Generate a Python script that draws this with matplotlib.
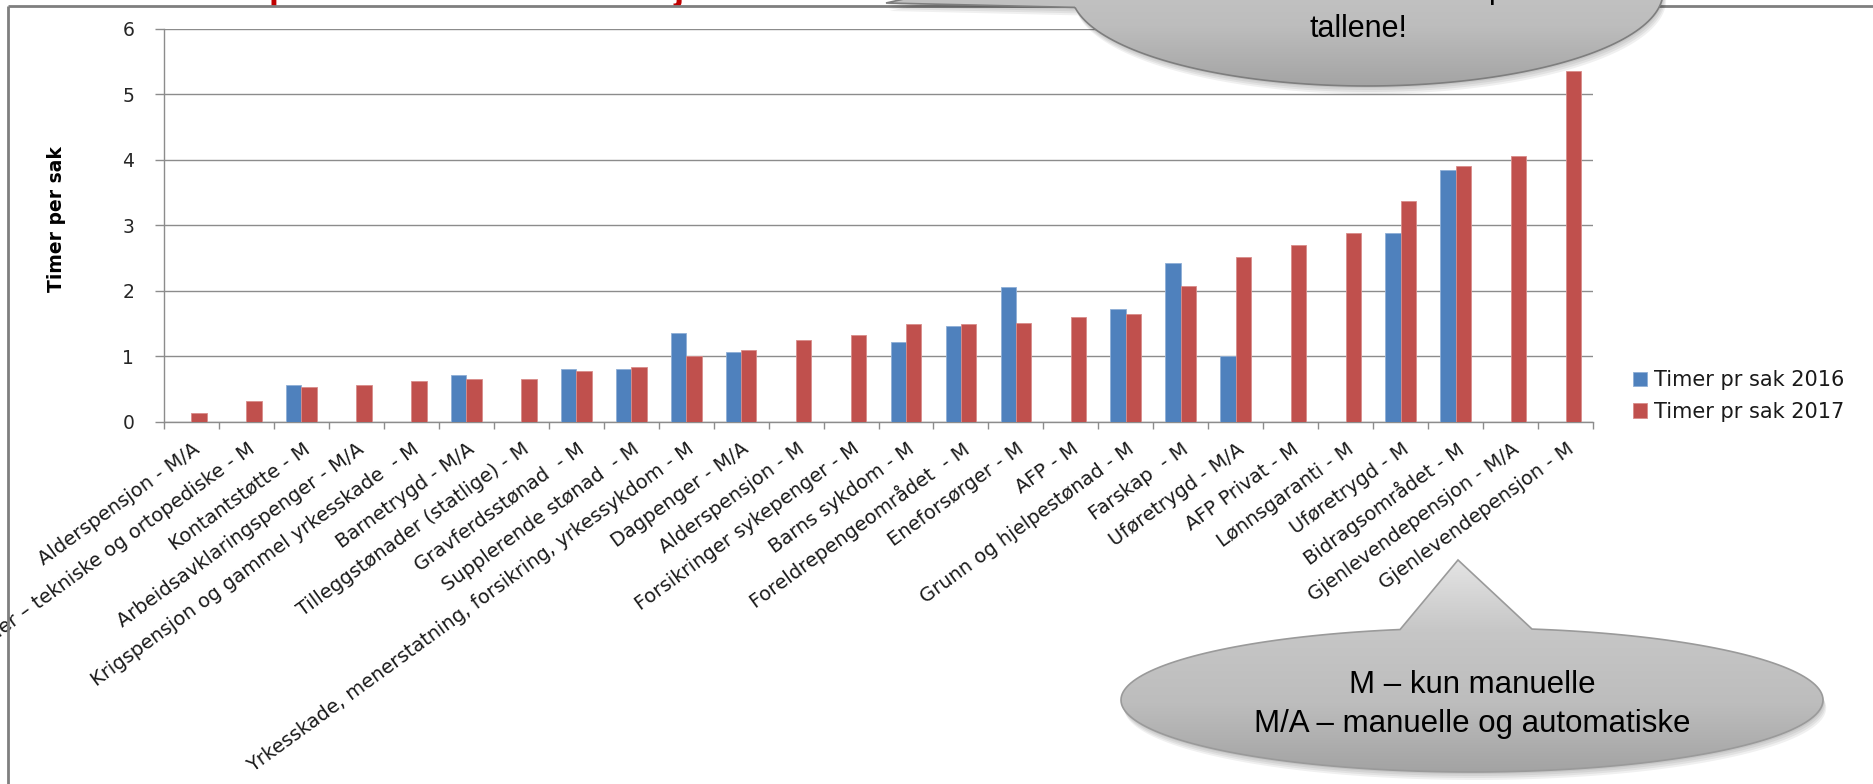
"""Timer per sak 2016 vs 2017 – grouped bar chart with callout bubbles."""
import numpy as np
import matplotlib
matplotlib.use('Agg')
import matplotlib.pyplot as plt
import matplotlib.transforms as mtransforms
from matplotlib.path import Path
from matplotlib.patches import PathPatch
from matplotlib.colors import LinearSegmentedColormap

# ── Data ──────────────────────────────────────────────────────────────────────
categories = [
    'Alderspensjon - M/A',
    'Hjelpemidler – tekniske og ortopediske - M',
    'Kontantstøtte - M',
    'Arbeidsavklaringspenger - M/A',
    'Krigspensjon og gammel yrkesskade  - M',
    'Barnetrygd - M/A',
    'Tilleggstønader (statlige) - M',
    'Gravferdsstønad  - M',
    'Supplerende stønad  - M',
    'Yrkesskade, menerstatning, forsikring, yrkessykdom - M',
    'Dagpenger - M/A',
    'Alderspensjon - M',
    'Forsikringer sykepenger - M',
    'Barns sykdom - M',
    'Foreldrepengeområdet  - M',
    'Eneforsørger - M',
    'AFP - M',
    'Grunn og hjelpestønad - M',
    'Farskap  - M',
    'Uføretrygd - M/A',
    'AFP Privat - M',
    'Lønnsgaranti - M',
    'Uføretrygd - M',
    'Bidragsområdet - M',
    'Gjenlevendepensjon - M/A',
    'Gjenlevendepensjon - M',
]
timer_2016 = [np.nan, np.nan, 0.56, np.nan, np.nan, 0.72, np.nan, 0.81, 0.81, 1.35,
              1.06, np.nan, np.nan, 1.22, 1.47, 2.06, np.nan, 1.72, 2.42, 1.01,
              np.nan, np.nan, 2.89, 3.85, np.nan, np.nan]
timer_2017 = [0.14, 0.32, 0.54, 0.57, 0.62, 0.65, 0.65, 0.78, 0.84, 1.00,
              1.10, 1.25, 1.32, 1.50, 1.50, 1.51, 1.60, 1.64, 2.07, 2.52,
              2.70, 2.88, 3.37, 3.91, 4.05, 5.35]
series_labels = ['Timer pr sak 2016', 'Timer pr sak 2017']
yticks = [0, 1, 2, 3, 4, 5, 6]

C_2016 = '#4F81BD'
C_2017 = '#C0504D'
GRID = '#8C8C8C'

W, H = 1874, 784
fig = plt.figure(figsize=(W / 100, H / 100), dpi=100)
fig.patch.set_facecolor('white')

# ── Main axes (pixel box 164..1593 x 28.6..422) ──────────────────────────────
ax = fig.add_axes([164 / W, 1 - 422 / H, (1593 - 164) / W, (422 - 28.6) / H])
x = np.arange(len(categories))
bw = 0.28
ax.bar(x - bw / 2, timer_2016, bw, color=C_2016, edgecolor='#8FAFD6', linewidth=0.6,
       label=series_labels[0], zorder=3)
ax.bar(x + bw / 2, timer_2017, bw, color=C_2017, edgecolor='#D98C8A', linewidth=0.6,
       label=series_labels[1], zorder=3)

ax.set_xlim(-0.5, len(categories) - 0.5)
ax.set_ylim(0, 6)
ax.set_yticks(yticks)
ax.yaxis.grid(True, color=GRID, linewidth=1.0, zorder=0)
ax.set_axisbelow(True)
for s in ('top', 'right'):
    ax.spines[s].set_visible(False)
for s in ('left', 'bottom'):
    ax.spines[s].set_color(GRID)
    ax.spines[s].set_linewidth(1.0)

ax.tick_params(axis='y', direction='out', length=6.5, width=1.0, color=GRID,
               labelsize=13.5, labelcolor='#262626', pad=15)
ax.set_xticks(x)
ax.set_xticks(np.arange(-0.5, len(categories)), minor=True)
ax.tick_params(axis='x', which='major', length=0, pad=18)
ax.tick_params(axis='x', which='minor', direction='out', length=5, width=1.0, color=GRID)
ax.set_xticklabels(categories, rotation=36, ha='right', va='center',
                   rotation_mode='anchor', fontsize=14, color='#1a1a1a')
shift = mtransforms.ScaledTranslation(6 / 100, 0, fig.dpi_scale_trans)
for lab in ax.get_xticklabels():
    lab.set_transform(lab.get_transform() + shift)

fig.text(57 / W, 1 - 219 / H, 'Timer per sak', rotation=90, ha='center', va='center',
         fontsize=13.5, fontweight='bold', family='DejaVu Sans')

fig.legend(loc='center left', bbox_to_anchor=(1614 / W, 1 - 396 / H), frameon=False,
           fontsize=15, handlelength=0.7, handleheight=0.7, handletextpad=0.3,
           labelspacing=0.55, labelcolor='#1a1a1a')

# ── Overlay in image pixel coordinates for frame and callouts ────────────────
ov = fig.add_axes([0, 0, 1, 1], zorder=5)
ov.set_xlim(0, W)
ov.set_ylim(H, 0)
ov.axis('off')
ov.patch.set_alpha(0)

ov.plot([8, W], [6, 6], color='#7F7F7F', lw=2.0, solid_capstyle='butt', zorder=1)
ov.plot([8, 8], [6, H], color='#7F7F7F', lw=2.0, solid_capstyle='butt', zorder=1)

# red title fragments peeking in at the very top
for xt, ch in [(280, 'p'), (679, 'j')]:
    ov.text(xt, -1.5, ch, color='#C00000', fontsize=26, fontweight='bold',
            family='Liberation Sans', ha='center', va='baseline', zorder=0)

gray_map = LinearSegmentedColormap.from_list('g', ['#E4E4E4', '#C6C6C6', '#BDBDBD', '#A2A2A2'])


def bubble_path(cx, cy, a, b, t0, t1, tail):
    t = np.linspace(t0, t1, 200)
    pts = np.column_stack([cx + a * np.cos(t), cy + b * np.sin(t)])
    pts = np.vstack([pts, tail, pts[:1]])
    codes = [Path.MOVETO] + [Path.LINETO] * (len(pts) - 2) + [Path.CLOSEPOLY]
    return Path(pts, codes)


def draw_bubble(path, y0, y1, edge):
    for off in [8, 6, 4, 2]:
        sh = Path(path.vertices + [off * 0.4, off], path.codes)
        ov.add_patch(PathPatch(sh, facecolor='black', edgecolor='none', alpha=0.06, zorder=6))
    patch = PathPatch(path, facecolor='none', edgecolor=edge, lw=1.2, zorder=8)
    ov.add_patch(patch)
    xs = path.vertices[:, 0]
    grad = np.linspace(0, 1, 256).reshape(-1, 1)
    im = ov.imshow(grad, cmap=gray_map, aspect='auto', zorder=7,
                   extent=[xs.min(), xs.max(), y1, y0], interpolation='bilinear')
    im.set_clip_path(patch)
    ov.set_xlim(0, W)
    ov.set_ylim(H, 0)


# top bubble (tail pointing left along the top edge)
top = bubble_path(1367, -8, 296, 94, 2.977, 2.977 - 5.82, [[1080, -40], [886, 3]])
draw_bubble(top, -100, 90, '#7E7E7E')
ov.text(1358, 37, 'tallene!', fontsize=22, family='Liberation Sans', ha='center',
        va='baseline', color='black', zorder=9)
ov.text(1497, -2.5, 'p', fontsize=22, family='Liberation Sans', ha='center',
        va='baseline', color='black', zorder=9)

# bottom bubble (tail pointing up)
bot = bubble_path(1472, 700, 351, 72, -1.399, 4.506, [[1458, 560]])
draw_bubble(bot, 560, 775, '#9A9A9A')
ov.text(1472, 693, 'M – kun manuelle', fontsize=22.5, family='Liberation Sans',
        ha='center', va='baseline', color='black', zorder=9)
ov.text(1472, 732, 'M/A – manuelle og automatiske', fontsize=22.5,
        family='Liberation Sans', ha='center', va='baseline', color='black', zorder=9)

fig.savefig('out.png', dpi=100, facecolor='white')
plt.close(fig)
